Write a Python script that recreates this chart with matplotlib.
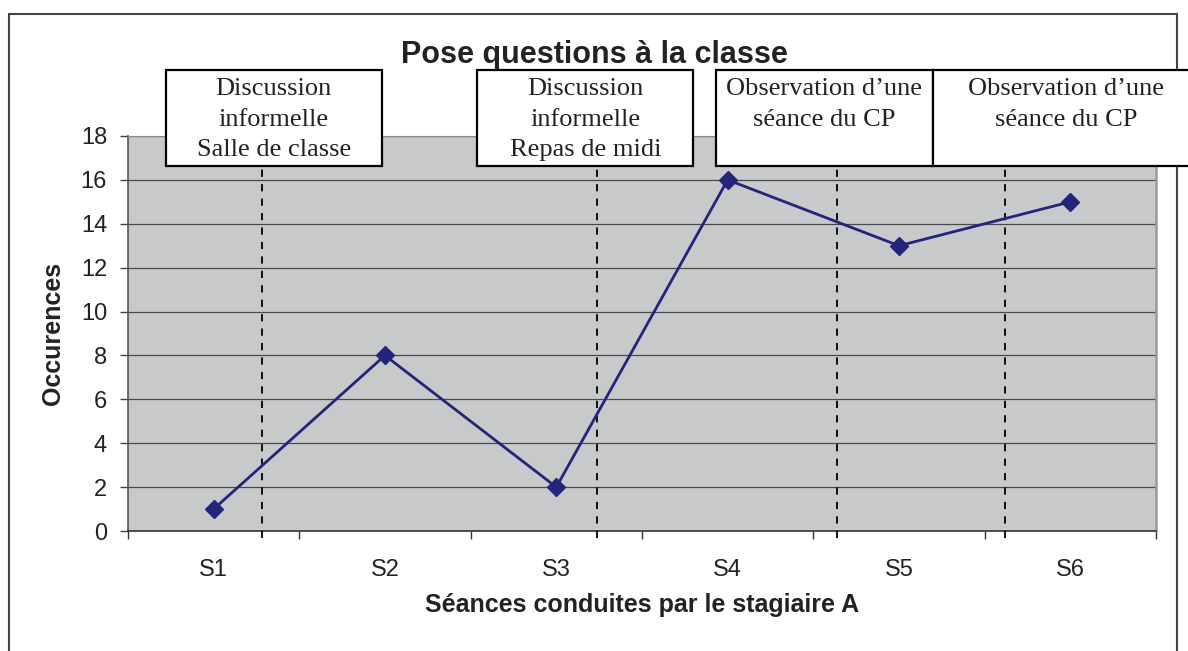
import matplotlib.pyplot as plt
import matplotlib.transforms as mtransforms
from matplotlib.patches import Rectangle

# data
seances = ["S1", "S2", "S3", "S4", "S5", "S6"]
occurences = [1, 8, 2, 16, 13, 15]

# phase separators (in category units) and the boxed notes above them
separateurs = [0.28, 2.24, 3.64, 4.62]
notes = ["Discussion\ninformelle\nSalle de classe",
         "Discussion\ninformelle\nRepas de midi",
         "Observation d\u2019une\ns\u00e9ance du CP",
         "Observation d\u2019une\ns\u00e9ance du CP"]
notes_x = [(-0.278, 0.98), (1.54, 2.80), (2.93, 4.20), (4.20, 5.75)]

plt.rcParams['font.family'] = ['Liberation Sans', 'DejaVu Sans']

fig = plt.figure(figsize=(11.88, 6.51), dpi=100)
ax = fig.add_axes([0.1077, 0.1843, 0.8654, 0.6068])
ax.set_facecolor('#C8C9CB')

x = list(range(len(seances)))
ax.plot(x, occurences, color='#24247A', lw=2, marker='D', ms=9, zorder=4)

ax.set_xlim(-0.5, len(seances) - 0.5)
ax.set_ylim(0, 18)
ax.set_yticks(range(0, 19, 2))
ax.yaxis.grid(True, color='#4a4a4a', lw=0.9)
ax.set_axisbelow(True)

ax.set_xticks(x)
ax.set_xticklabels(seances)
ax.set_xticks([i - 0.5 for i in range(len(seances) + 1)], minor=True)
ax.tick_params(axis='x', which='major', length=0, pad=20, labelsize=17, colors='#222222')
ax.tick_params(axis='x', which='minor', length=6, width=1, color='#333333', direction='out')
ax.tick_params(axis='y', length=6, width=1, color='#444444', pad=9, labelsize=17, labelcolor='#222222')

ax.spines['top'].set_color('#8a8a8a')
ax.spines['right'].set_color('#9a9a9a')
ax.spines['right'].set_linewidth(1.8)
ax.spines['left'].set_color('#555555')
ax.spines['left'].set_linewidth(1.2)
ax.spines['bottom'].set_color('#333333')
ax.spines['bottom'].set_linewidth(1.2)

ax.set_ylabel("Occurences", fontsize=18, fontweight='bold', color='#222222')
ax.yaxis.set_label_coords(-0.061, 0.5)
ax.set_xlabel("S\u00e9ances conduites par le stagiaire A", fontsize=18,
              fontweight='bold', color='#222222')
ax.xaxis.set_label_coords(0.5, -0.158)

for s in separateurs:
    ax.plot([s, s], [-0.3, 17.9], color='black', ls=(0, (4, 4)), lw=1.3,
            clip_on=False, zorder=3)

fig.text(0.5, 0.903, "Pose questions \u00e0 la classe", ha='center', va='baseline',
         fontsize=22, fontweight='bold', color='#222222')

trans = mtransforms.blended_transform_factory(ax.transData, fig.transFigure)
box_top, box_bottom = 0.8925, 0.745
for (x0, x1), note in zip(notes_x, notes):
    fig.patches.append(Rectangle((x0, box_bottom), x1 - x0, box_top - box_bottom,
                                 transform=trans, facecolor='white', edgecolor='black',
                                 lw=1.6, zorder=5))
    fig.text((x0 + x1) / 2, box_top - 0.013, note, transform=trans, ha='center',
             va='top', fontsize=19, family=['Liberation Serif', 'DejaVu Serif'],
             color='#222222', linespacing=1.5, zorder=6)

fig.patches.append(Rectangle((0.0076, -0.05), 0.9831, 1.0285, transform=fig.transFigure,
                             facecolor='none', edgecolor='#444444', lw=1.5, zorder=0))

fig.savefig('out.png', dpi=100)
